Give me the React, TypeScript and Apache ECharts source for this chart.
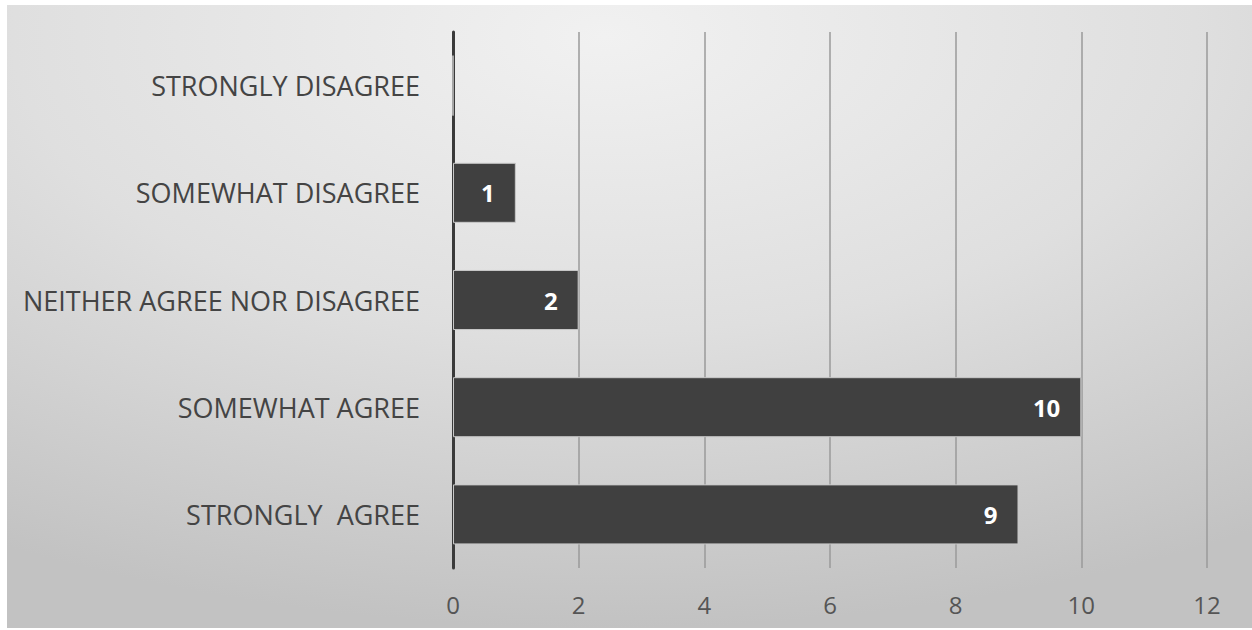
import React, { useEffect, useRef } from "react";
import * as echarts from "echarts";

const categories = [
  "STRONGLY DISAGREE",
  "SOMEWHAT DISAGREE",
  "NEITHER AGREE NOR DISAGREE",
  "SOMEWHAT AGREE",
  "STRONGLY  AGREE",
];
const values = [0, 1, 2, 10, 9];
const xTicks = { min: 0, max: 12, interval: 2 };

export default function App() {
  const ref = useRef<HTMLDivElement>(null);
  useEffect(() => {
    document.body.style.margin = "0";
    const chart = echarts.init(ref.current!, null, { renderer: "svg" });
    chart.setOption({
      animation: false,
      backgroundColor: new echarts.graphic.RadialGradient(0.48, 0.05, 0.95, [
        { offset: 0, color: "#f1f1f1" },
        { offset: 0.5, color: "#dfdfdf" },
        { offset: 1, color: "#c2c2c2" },
      ]),
      grid: { left: 446, right: 45, top: 27, bottom: 60, containLabel: false },
      xAxis: {
        type: "value",
        min: xTicks.min,
        max: xTicks.max,
        interval: xTicks.interval,
        axisLine: { show: false },
        axisTick: { show: false },
        axisLabel: {
          color: "#555",
          fontSize: 24,
          fontFamily: "Open Sans",
          margin: 24,
        },
        splitLine: { show: true, lineStyle: { color: "#9a9a9a", width: 1.5 } },
      },
      yAxis: {
        type: "category",
        data: categories,
        inverse: true,
        axisLine: { show: true, lineStyle: { color: "#3a3a3a", width: 3 } },
        axisTick: { show: false },
        axisLabel: {
          color: "#444",
          fontSize: 27,
          fontFamily: "Open Sans",
          margin: 33,
        },
      },
      series: [
        {
          type: "bar",
          data: values,
          barCategoryGap: "44%",
          itemStyle: { color: "#404040", borderColor: "#c8c8c8", borderWidth: 1 },
          label: {
            show: true,
            position: "insideRight",
            distance: 21,
            color: "#ffffff",
            fontWeight: "bold",
            fontSize: 24,
            fontFamily: "Open Sans",
            formatter: (p: any) => (p.value > 0 ? String(p.value) : ""),
          },
          z: 3,
        },
      ],
    });
    return () => chart.dispose();
  }, []);
  return (
    <div style={{ position: "relative", width: 1252, height: 630, background: "#ffffff" }}>
      <div
        ref={ref}
        style={{ position: "absolute", left: 7, top: 5, width: 1245, height: 623 }}
      />
    </div>
  );
}
